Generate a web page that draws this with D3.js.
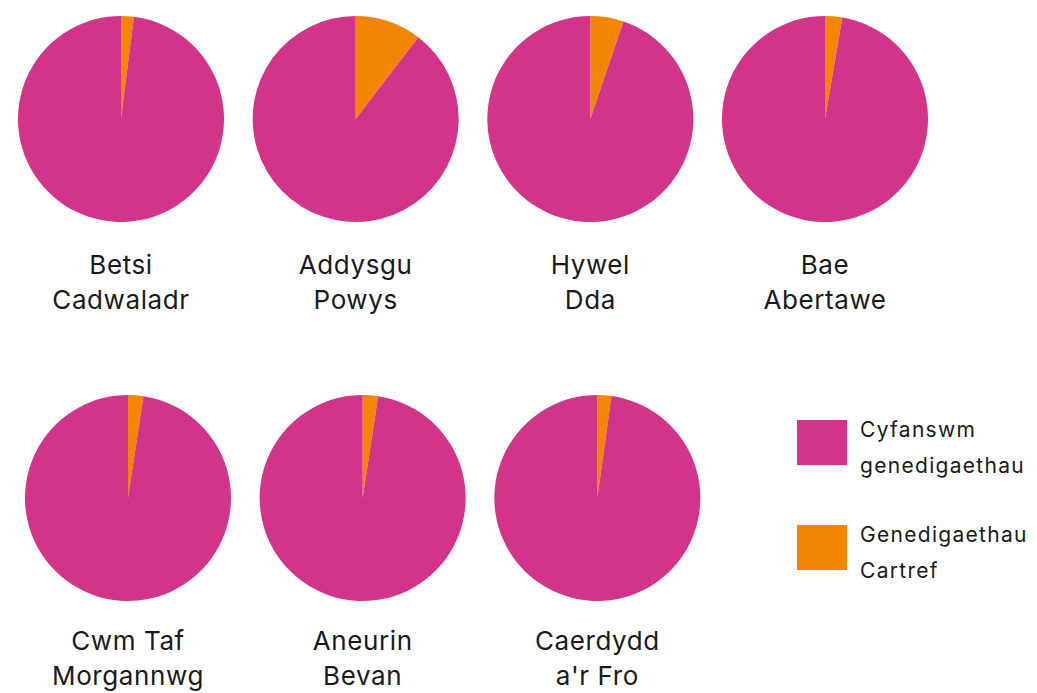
<!DOCTYPE html>
<html>
<head>
<meta charset="utf-8">
<script src="https://cdn.jsdelivr.net/npm/d3@7"></script>
<style>
  body { margin: 0; background: #fff; }
  text { font-family: Inter, "Open Sans", sans-serif; fill: #1a1a1a; }
</style>
</head>
<body>
<div id="chart"></div>
<script>
// health boards, share of home births (%)
var boards = [["Betsi", "Cadwaladr"], ["Addysgu", "Powys"], ["Hywel", "Dda"], ["Bae", "Abertawe"],
              ["Cwm Taf", "Morgannwg"], ["Aneurin", "Bevan"], ["Caerdydd", "a'r Fro"]];
var homeShare = [2.0, 10.4, 5.2, 2.7, 2.4, 2.4, 2.2];
var seriesNames = [["Cyfanswm", "genedigaethau"], ["Genedigaethau", "Cartref"]];
var colours = ["#d13488", "#f28602"];

var width = 1037, height = 693, radius = 103;

var svg = d3.select("#chart").append("svg")
    .attr("width", width)
    .attr("height", height);

var col = d3.scalePoint().domain([0, 1, 2, 3]).range([121, 825]);
var color = d3.scaleOrdinal().domain([0, 1]).range(colours);

var pie = d3.pie().sort(null).value(function(d) { return d.v; });
var arc = d3.arc().innerRadius(0).outerRadius(radius);

boards.forEach(function(name, i) {
    var row = Math.floor(i / 4), c = i % 4;
    var cx = col(c) + row * 7, cy = row ? 498 : 119;
    // orange slice first so it starts at 12 o'clock, clockwise
    var data = [{k: 1, v: homeShare[i]}, {k: 0, v: 100 - homeShare[i]}];
    var g = svg.append("g").attr("transform", "translate(" + cx + "," + cy + ")");
    g.selectAll("path")
        .data(pie(data))
        .enter().append("path")
        .attr("d", arc)
        .style("fill", function(d) { return color(d.data.k); });

    var ly = row ? 650 : 274;
    g.append("text")
        .attr("text-anchor", "middle")
        .attr("y", ly - cy)
        .style("font-size", "26px")
        .style("letter-spacing", "0.6px")
        .selectAll("tspan")
        .data(name)
        .enter().append("tspan")
        .attr("x", 0)
        .attr("dy", function(d, j) { return j ? 35 : 0; })
        .text(function(d) { return d; });
});

// legend
var legend = svg.selectAll(".legend")
    .data(seriesNames)
    .enter().append("g")
    .attr("class", "legend")
    .attr("transform", function(d, i) { return "translate(797," + (420 + i * 105) + ")"; });

legend.append("rect")
    .attr("width", 50)
    .attr("height", 45)
    .style("fill", function(d, i) { return color(i); });

legend.append("text")
    .attr("y", 17)
    .style("font-size", "21px")
    .style("letter-spacing", "1.3px")
    .selectAll("tspan")
    .data(function(d) { return d; })
    .enter().append("tspan")
    .attr("x", 63)
    .attr("dy", function(d, j) { return j ? 36 : 0; })
    .text(function(d) { return d; });
</script>
</body>
</html>
